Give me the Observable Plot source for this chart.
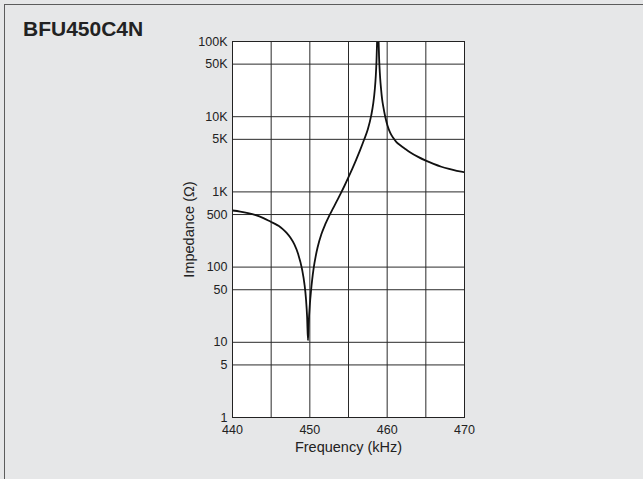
<!DOCTYPE html>
<html>
<head>
<meta charset="utf-8">
<script src="https://cdn.jsdelivr.net/npm/d3@7"></script>
<script src="https://cdn.jsdelivr.net/npm/@observablehq/plot@0.6"></script>
<style>
  html, body { margin: 0; padding: 0; width: 643px; height: 479px; overflow: hidden; background: #e6e7e8; }
  #panel { position: absolute; left: 4px; top: 4px; width: 700px; height: 600px; border-left: 1.5px solid #5c5c5c; border-top: 1.5px solid #5c5c5c; }
  #title { position: absolute; left: 23px; top: 18px; font: bold 21px "Liberation Sans", Arial, Helvetica, sans-serif; line-height: 21px; color: #222; white-space: nowrap; }
  #chart { position: absolute; left: 0; top: 0; }
  #chart g[aria-label="x-axis label"] text, #chart g[aria-label="y-axis label"] text { font-size: 14.5px; }
</style>
</head>
<body>
<div id="panel"></div>
<div id="title">BFU450C4N</div>
<div id="chart"></div>
<script>
// Frequency (kHz) and impedance (Ω)
const freq = [
  440, 441, 442, 443, 444, 445, 445.5, 446, 446.5, 447, 447.5, 448, 448.5, 449, 449.3, 449.5, 449.65, 449.76,
  449.85, 450.0, 450.15, 450.3, 450.5, 450.75, 451.0, 451.5, 452.0, 452.5, 453.0, 453.5, 454.0, 454.5, 455.0, 455.5, 456.0, 456.5, 457.0,
  457.5, 457.94, 458.2, 458.4, 458.53, 458.62, 458.68, 458.72, 458.78, 458.89,
  458.95, 459.0, 459.1, 459.2, 459.35, 459.5, 459.75, 460.05, 460.4, 460.8, 461.2, 461.7, 462.3, 463, 464, 465, 466, 467, 468, 469, 470];
const impedance = [
  566, 547, 522, 490, 447, 398, 376, 351, 320, 285, 245, 200, 148, 93, 60, 38, 21.4, 10.6,
  17.8, 31.6, 47.9, 67.6, 97.7, 138, 182, 275, 372, 479, 603, 759, 955, 1216, 1567, 2042, 2692, 3589, 4898,
  6800, 10400, 15000, 23000, 35000, 55000, 87000, 130000, 300000, 105000,
  63000, 48000, 32000, 24000, 17000, 13600, 10000, 7600, 6100, 5200, 4600, 4170, 3760, 3350, 2920, 2600, 2355, 2160, 2020, 1910, 1830];

const xTicks = [440, 445, 450, 455, 460, 465, 470];
const xTickLabels = ["440", "", "450", "", "460", "", "470"];
const yTicks = [1, 5, 10, 50, 100, 500, 1000, 5000, 10000, 50000, 100000];
const yTickLabels = ["1", "5", "10", "50", "100", "500", "1K", "5K", "10K", "50K", "100K"];

const data = freq.map((f, i) => ({f, z: impedance[i]}));
const yLabelData = yTicks.map((v, i) => ({v, label: yTickLabels[i]}));
const font = '"Liberation Sans", Arial, Helvetica, sans-serif';

const chart = Plot.plot({
  width: 643,
  height: 479,
  marginLeft: 232,
  marginRight: 179,
  marginTop: 41,
  marginBottom: 62,
  style: {background: "transparent", fontFamily: font, fontSize: "12px", color: "#222", overflow: "visible"},
  x: {domain: [440, 470]},
  y: {type: "log", domain: [1, 100000]},
  marks: [
    Plot.frame({fill: "white", stroke: "none"}),
    Plot.gridX(xTicks, {stroke: "#2a2a2a", strokeOpacity: 1, strokeWidth: 1}),
    Plot.gridY(yTicks, {stroke: "#2a2a2a", strokeOpacity: 1, strokeWidth: 1}),
    Plot.axisX(xTicks, {
      tickSize: 0, tickPadding: 8, fontSize: 12.5,
      tickFormat: (d) => xTickLabels[xTicks.indexOf(d)],
      label: "Frequency (kHz)", labelAnchor: "center", labelArrow: "none", labelOffset: 34
    }),
    Plot.axisY([], {
      tickSize: 0,
      label: "Impedance (Ω)", labelAnchor: "center", labelArrow: "none", labelOffset: 49
    }),
    Plot.text(yLabelData, {y: "v", text: "label", frameAnchor: "left", textAnchor: "end", dx: -5, fontSize: 12.5, fill: "#222"}),
    Plot.line(data, {x: "f", y: "z", stroke: "#111", strokeWidth: 1.8, curve: "monotone-x", clip: true}),
    Plot.frame({stroke: "#222", strokeWidth: 1})
  ]
});
document.getElementById("chart").append(chart);
</script>
</body>
</html>
